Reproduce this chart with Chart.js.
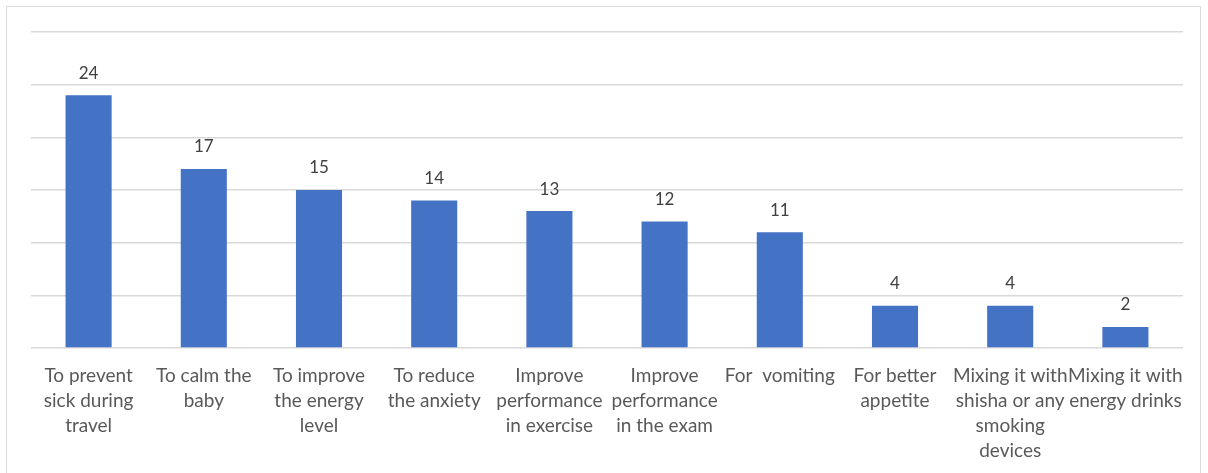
<!DOCTYPE html>
<html><head><meta charset="utf-8">
<script src="https://cdn.jsdelivr.net/npm/chart.js@4"></script>
<style>
html,body{margin:0;padding:0;background:#fff;overflow:hidden}
#frame{position:absolute;left:6px;top:6px;width:1195px;height:500px;border:1px solid #d9d9d9;box-sizing:border-box}
#wrap{position:absolute;left:0;top:0;width:1208px;height:473px}
</style></head><body>
<div id="frame"></div>
<div id="wrap"><canvas id="c" width="1208" height="473"></canvas></div>
<script>
const categories = [
  ["To prevent","sick during","travel"],
  ["To calm the","baby"],
  ["To improve","the energy","level"],
  ["To reduce","the anxiety"],
  ["Improve","performance","in exercise"],
  ["Improve","performance","in the exam"],
  ["For  vomiting"],
  ["For better","appetite"],
  ["Mixing it with","shisha or any","smoking","devices"],
  ["Mixing it with","energy drinks"]
];
const values = [24, 17, 15, 14, 13, 12, 11, 4, 4, 2];
const yMin = 0, yMax = 30, yStep = 5;

const FONT = "Lato, 'Open Sans', sans-serif";

const valueLabels = {
  id: 'valueLabels',
  afterDatasetsDraw(chart) {
    const ctx = chart.ctx;
    const meta = chart.getDatasetMeta(0);
    ctx.save();
    ctx.font = "17px " + FONT;
    ctx.fillStyle = "#404040";
    ctx.textAlign = "center";
    ctx.textBaseline = "middle";
    meta.data.forEach((bar, i) => {
      ctx.fillText(String(values[i]), bar.x, bar.y - 22);
    });
    ctx.restore();
  }
};

new Chart(document.getElementById('c'), {
  type: 'bar',
  data: {
    labels: categories,
    datasets: [{
      data: values,
      backgroundColor: '#4472C4',
      borderWidth: 0,
      barPercentage: 0.4,
      categoryPercentage: 1.0
    }]
  },
  options: {
    responsive: false,
    animation: false,
    devicePixelRatio: 1,
    layout: { padding: { left: 31, right: 25, top: 32, bottom: 0 } },
    plugins: { legend: { display: false }, tooltip: { enabled: false } },
    scales: {
      x: {
        grid: { display: false },
        border: { display: false },
        ticks: {
          color: '#595959',
          font: { family: FONT, size: 19, lineHeight: 1.3 },
          maxRotation: 0, minRotation: 0, autoSkip: false, padding: 8
        },
        afterFit(s) { s.height = 125; }
      },
      y: {
        min: yMin, max: yMax,
        ticks: { display: false, stepSize: yStep },
        grid: { color: '#d9d9d9', lineWidth: 1.5, drawTicks: false },
        border: { display: false },
        afterFit(s) { s.width = 0; }
      }
    }
  },
  plugins: [valueLabels]
});
</script>
</body></html>
